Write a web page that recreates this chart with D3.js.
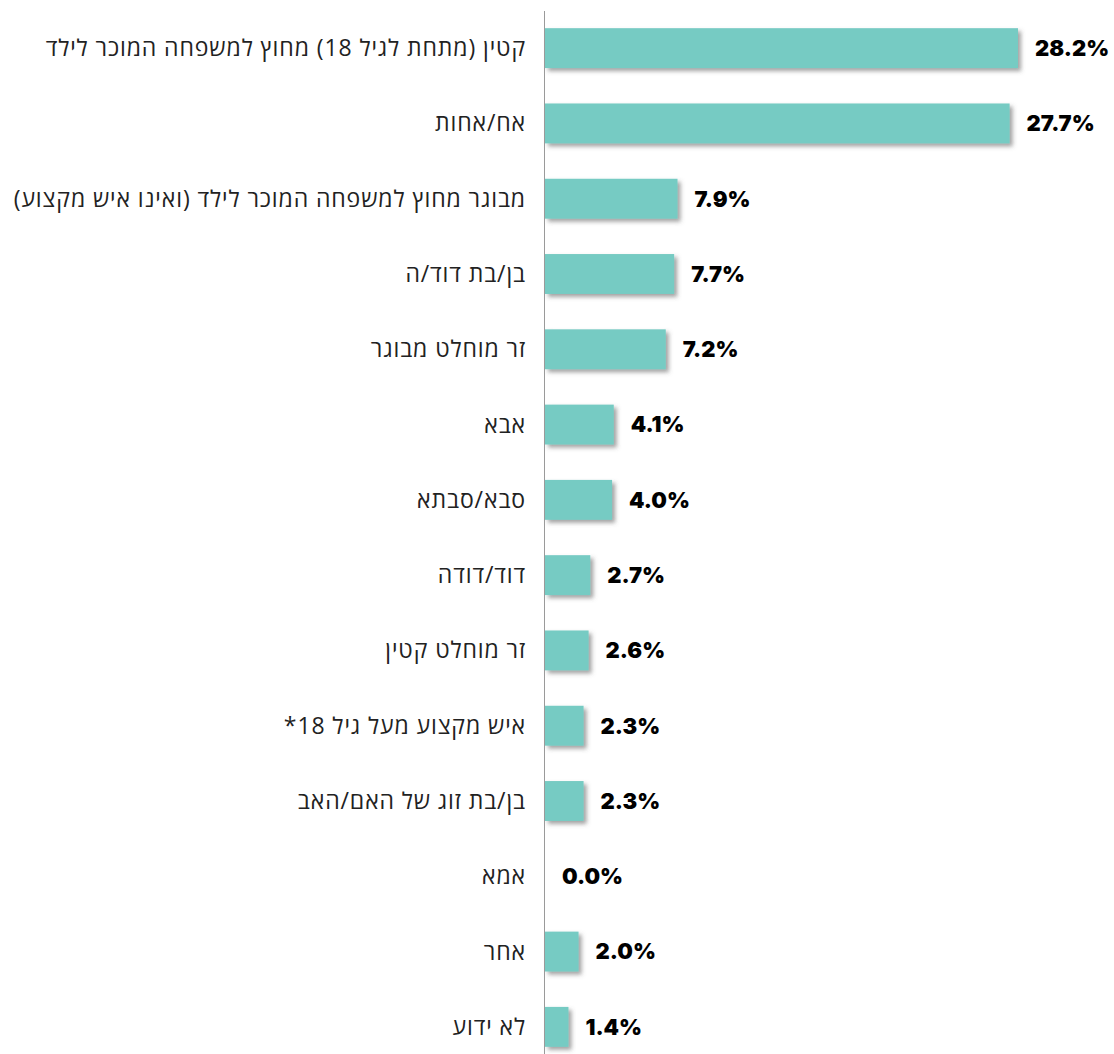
<!DOCTYPE html>
<html>
<head>
<meta charset="utf-8">
<script src="https://cdn.jsdelivr.net/npm/d3@7"></script>
<style>
  body { margin: 0; background: #fff; }
  .cat-label { font-family: "Open Sans", "DejaVu Sans", sans-serif; font-size: 23px; letter-spacing: 0.9px; fill: #222; }
  .val-label { font-family: Inter, "Open Sans", sans-serif; font-weight: 900; font-size: 22px; fill: #000; }
</style>
</head>
<body>
<svg id="chart" width="1114" height="1054"></svg>
<script>
var categories = [
  "קטין (מתחת לגיל 18) מחוץ למשפחה המוכר לילד",
  "אח/אחות",
  "מבוגר מחוץ למשפחה המוכר לילד (ואינו איש מקצוע)",
  "בן/בת דוד/ה",
  "זר מוחלט מבוגר",
  "אבא",
  "סבא/סבתא",
  "דוד/דודה",
  "זר מוחלט קטין",
  "איש מקצוע מעל גיל 18*",
  "בן/בת זוג של האם/האב",
  "אמא",
  "אחר",
  "לא ידוע"
];
var values = [28.2, 27.7, 7.9, 7.7, 7.2, 4.1, 4.0, 2.7, 2.6, 2.3, 2.3, 0.0, 2.0, 1.4];

var rows = categories.map(function (c, i) { return { name: c, value: values[i] }; });

var svg = d3.select("#chart");

var x = d3.scaleLinear()
  .domain([0, 28.2])
  .range([545, 1018]);

var y = d3.scaleBand()
  .domain(categories)
  .range([10.5, 1064.5])
  .paddingInner(0.47)
  .paddingOuter(0.235);

// drop shadow for the bars
var defs = svg.append("defs");
var shadow = defs.append("filter")
  .attr("id", "barShadow")
  .attr("x", "-20%").attr("y", "-20%")
  .attr("width", "150%").attr("height", "160%");
shadow.append("feDropShadow")
  .attr("dx", 3).attr("dy", 3)
  .attr("stdDeviation", 2)
  .attr("flood-color", "#555")
  .attr("flood-opacity", 0.55);

svg.append("g")
  .selectAll("rect")
  .data(rows.filter(function (d) { return d.value > 0; }))
  .join("rect")
  .attr("x", x(0))
  .attr("y", function (d) { return y(d.name); })
  .attr("width", function (d) { return x(d.value) - x(0); })
  .attr("height", y.bandwidth())
  .attr("fill", "#76cbc3")
  .attr("filter", "url(#barShadow)");

// vertical axis line
svg.append("line")
  .attr("x1", x(0) - 0.5).attr("x2", x(0) - 0.5)
  .attr("y1", 11).attr("y2", 1054)
  .attr("stroke", "#9a9a9a")
  .attr("stroke-width", 1);

// category labels (right to left)
svg.append("g")
  .selectAll("text")
  .data(rows)
  .join("text")
  .attr("class", "cat-label")
  .attr("direction", "rtl")
  .attr("text-anchor", "start")
  .attr("x", 526)
  .attr("y", function (d) { return y(d.name) + y.bandwidth() / 2; })
  .attr("dy", "0.35em")
  .text(function (d) { return d.name; });

// value labels
svg.append("g")
  .selectAll("text")
  .data(rows)
  .join("text")
  .attr("class", "val-label")
  .attr("x", function (d) { return x(d.value) + 17; })
  .attr("y", function (d) { return y(d.name) + y.bandwidth() / 2; })
  .attr("dy", "0.36em")
  .text(function (d) { return d.value.toFixed(1) + "%"; });
</script>
</body>
</html>
